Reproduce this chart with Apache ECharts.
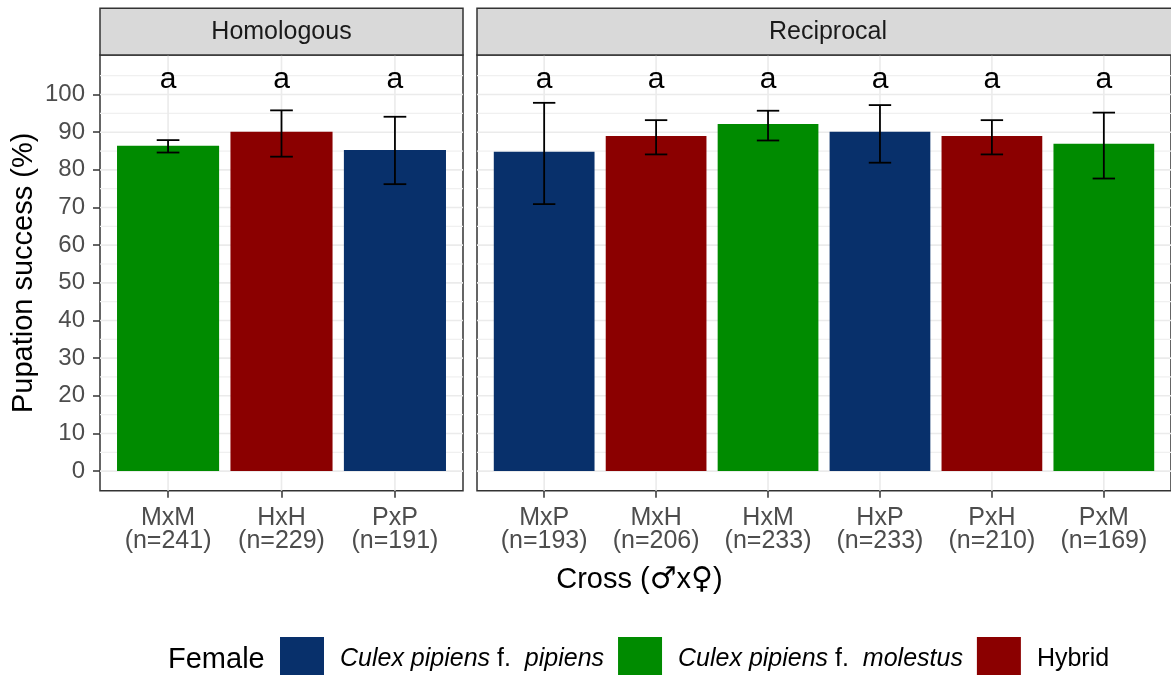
<!DOCTYPE html>
<html><head><meta charset="utf-8">
<script src="https://cdn.jsdelivr.net/npm/echarts@6/dist/echarts.min.js"></script>
<style>html,body{margin:0;padding:0;background:#fff}#c{width:1171px;height:675px}</style>
</head><body><div id="c"></div>
<script>
// ---------- data ----------
const panelNames = ["Homologous", "Reciprocal"];

const homCrosses = ["MxM", "HxH", "PxP"];
const homN = [241, 229, 191];
const homFemale = ["molestus", "hybrid", "pipiens"];
const homMean = [86.4, 90.1, 85.3];
const homLow = [84.6, 83.5, 76.2];
const homHigh = [87.9, 95.8, 94.1];
const homLetters = ["a", "a", "a"];

const recCrosses = ["MxP", "MxH", "HxM", "HxP", "PxH", "PxM"];
const recN = [193, 206, 233, 233, 210, 169];
const recFemale = ["pipiens", "hybrid", "molestus", "pipiens", "hybrid", "molestus"];
const recMean = [84.8, 89.0, 92.2, 90.1, 89.0, 86.9];
const recLow = [70.9, 84.1, 87.8, 81.9, 84.1, 77.7];
const recHigh = [97.8, 93.2, 95.7, 97.2, 93.2, 95.2];
const recLetters = ["a", "a", "a", "a", "a", "a"];

const letterY = 105;
const yTicks = [0, 10, 20, 30, 40, 50, 60, 70, 80, 90, 100];
const yMinorTicks = [5, 15, 25, 35, 45, 55, 65, 75, 85, 95, 105];

const femaleKeys = ["pipiens", "molestus", "hybrid"];
const femaleNames = ["Culex pipiens f.  pipiens", "Culex pipiens f.  molestus", "Hybrid"];
const femaleColors = ["#08306B", "#008B00", "#8B0000"];

// ---------- layout ----------
const SMALL = 25, TICK = 24, LEGEND = 25, LARGE = 29;
const FONT = "'Liberation Sans', Arial, sans-serif";
const G = [
  { left: 100, top: 55, width: 363, height: 435.7 },
  { left: 477, top: 55, width: 702, height: 435.7 }
];
const STRIP_TOP = 8.3;
const Y_MIN = -5.2, Y_MAX = 110.5;

const panels = [
  { crosses: homCrosses, n: homN, female: homFemale, mean: homMean, low: homLow, high: homHigh, letters: homLetters },
  { crosses: recCrosses, n: recN, female: recFemale, mean: recMean, low: recLow, high: recHigh, letters: recLetters }
];

function renderGridLine(params, api) {
  const cs = params.coordSys;
  const kind = api.value(0), v = api.value(1);
  if (kind === 2) {
    const x = api.coord([v, 0])[0];
    return { type: 'line', shape: { x1: x, y1: cs.y, x2: x, y2: cs.y + cs.height },
      style: { stroke: '#ebebeb', lineWidth: 1.6 } };
  }
  const y = api.coord([0, v])[1];
  return { type: 'line', shape: { x1: cs.x, y1: y, x2: cs.x + cs.width, y2: y },
    style: { stroke: kind === 0 ? '#ebebeb' : '#f0f0f0', lineWidth: kind === 0 ? 1.6 : 1.2 } };
}

function renderBar(params, api) {
  const x = api.value(0), v = api.value(1), lo = api.value(2), hi = api.value(3);
  const p0 = api.coord([x - 0.45, v]);
  const p1 = api.coord([x + 0.45, 0]);
  const top = api.coord([x, hi]), bot = api.coord([x, lo]);
  const cl = api.coord([x - 0.1, 0])[0], cr = api.coord([x + 0.1, 0])[0];
  const es = { stroke: '#000', lineWidth: 1.8 };
  return { type: 'group', children: [
    { type: 'rect', shape: { x: p0[0], y: p0[1], width: p1[0] - p0[0], height: p1[1] - p0[1] },
      style: { fill: api.visual('color') } },
    { type: 'line', shape: { x1: top[0], y1: top[1], x2: bot[0], y2: bot[1] }, style: es },
    { type: 'line', shape: { x1: cl, y1: top[1], x2: cr, y2: top[1] }, style: es },
    { type: 'line', shape: { x1: cl, y1: bot[1], x2: cr, y2: bot[1] }, style: es }
  ]};
}

const letterSeriesIdx = [];
function renderLetter(params, api) {
  const p = api.coord([api.value(0), api.value(1)]);
  const P = panels[params.seriesIndex === letterSeriesIdx[0] ? 0 : 1];
  return { type: 'text', x: p[0], y: p[1] + 4,
    style: { text: P.letters[params.dataIndex],
      font: '30px ' + FONT, fill: '#000', align: 'center', verticalAlign: 'middle' } };
}

const grids = [], xAxes = [], yAxes = [], series = [];
panels.forEach((P, pi) => {
  grids.push(Object.assign({ show: true, borderColor: '#333333', borderWidth: 1.5, backgroundColor: '#fff' }, G[pi]));
  const idx = P.crosses.map((_, i) => i);
  xAxes.push({
    type: 'value', gridIndex: pi, min: -0.6, max: P.crosses.length - 1 + 0.6, position: 'bottom',
    axisLine: { show: false, onZero: false }, splitLine: { show: false },
    axisTick: { show: true, customValues: idx, length: 7, lineStyle: { color: '#333333', width: 1.5 } },
    axisLabel: { customValues: idx, margin: 16, color: '#4d4d4d', fontSize: SMALL, fontFamily: FONT, lineHeight: 23,
      formatter: v => P.crosses[v] + '\n(n=' + P.n[v] + ')' }
  });
  yAxes.push({
    type: 'value', gridIndex: pi, min: Y_MIN, max: Y_MAX, position: 'left',
    axisLine: { show: false, onZero: false }, splitLine: { show: false },
    axisTick: { show: pi === 0, customValues: yTicks, length: 7, lineStyle: { color: '#333333', width: 1.5 } },
    axisLabel: { show: pi === 0, customValues: yTicks, margin: 15, color: '#4d4d4d', fontSize: TICK, fontFamily: FONT }
  });
  const lines = yTicks.map(v => [0, v]).concat(yMinorTicks.map(v => [1, v])).concat(idx.map(v => [2, v]));
  series.push({ type: 'custom', name: 'grid' + pi, xAxisIndex: pi, yAxisIndex: pi, z: 1, silent: true,
    renderItem: renderGridLine, data: lines, encode: { x: -1, y: -1 } });
  femaleKeys.forEach((fk, fi) => {
    const data = [];
    idx.forEach(i => { if (P.female[i] === fk) data.push([i, P.mean[i], P.low[i], P.high[i]]); });
    series.push({ type: 'custom', name: femaleNames[fi], xAxisIndex: pi, yAxisIndex: pi, z: 2,
      itemStyle: { color: femaleColors[fi] }, renderItem: renderBar, data: data,
      encode: { x: 0, y: [1, 2, 3] } });
  });
  letterSeriesIdx.push(series.length);
  series.push({ type: 'custom', name: 'letters' + pi, xAxisIndex: pi, yAxisIndex: pi, z: 3, silent: true,
    renderItem: renderLetter, data: idx.map(i => [i, letterY]), encode: { x: 0, y: 1 } });
});

const graphics = [];
panelNames.forEach((name, pi) => {
  const g = G[pi];
  graphics.push({ type: 'rect', shape: { x: g.left, y: STRIP_TOP, width: g.width, height: g.top - STRIP_TOP },
    style: { fill: '#d9d9d9', stroke: '#333333', lineWidth: 1.5 }, z: 10 });
  graphics.push({ type: 'text', x: g.left + g.width / 2, y: (STRIP_TOP + g.top) / 2, z: 11,
    style: { text: name, font: SMALL + 'px ' + FONT, fill: '#1a1a1a', align: 'center', verticalAlign: 'middle' } });
});
graphics.push({ type: 'text', x: 24, y: G[0].top + G[0].height / 2, rotation: Math.PI / 2, z: 11,
  style: { text: 'Pupation success (%)', font: LARGE + 'px ' + FONT, fill: '#000', align: 'center', verticalAlign: 'middle' } });
graphics.push({ type: 'text', x: (G[0].left + G[1].left + G[1].width) / 2, y: 580, z: 11,
  style: { text: '{t|Cross (}{g|♂}{t|x}{g|♀}{t|)}', align: 'center', verticalAlign: 'middle',
    rich: { t: { font: LARGE + 'px ' + FONT, fill: '#000' },
            g: { font: (LARGE + 1) + "px 'DejaVu Sans', sans-serif", fill: '#000' } } } });
graphics.push({ type: 'text', x: 168, y: 660, z: 11,
  style: { text: 'Female', font: LARGE + 'px ' + FONT, fill: '#000', align: 'left', verticalAlign: 'middle' } });

const chart = echarts.init(document.getElementById('c'), null, { renderer: 'canvas' });
chart.setOption({
  animation: false,
  backgroundColor: '#fff',
  grid: grids, xAxis: xAxes, yAxis: yAxes, series: series, graphic: graphics,
  legend: {
    data: femaleNames, left: 280, top: 637, orient: 'horizontal', icon: 'rect',
    itemWidth: 44, itemHeight: 44, itemGap: 14, padding: 0, selectedMode: false,
    formatter: name => {
      if (name === 'Hybrid') return '{s| }Hybrid';
      const parts = name.split('f.');
      return '{s| }{i|' + parts[0].trim() + '} f.  {i|' + parts[1].trim() + '}';
    },
    textStyle: { fontSize: LEGEND, fontFamily: FONT, color: '#000',
      rich: { i: { fontStyle: 'italic', fontSize: LEGEND, fontFamily: FONT, color: '#000' },
              s: { width: 11, fontSize: LEGEND } } }
  }
});
</script>
</body></html>
